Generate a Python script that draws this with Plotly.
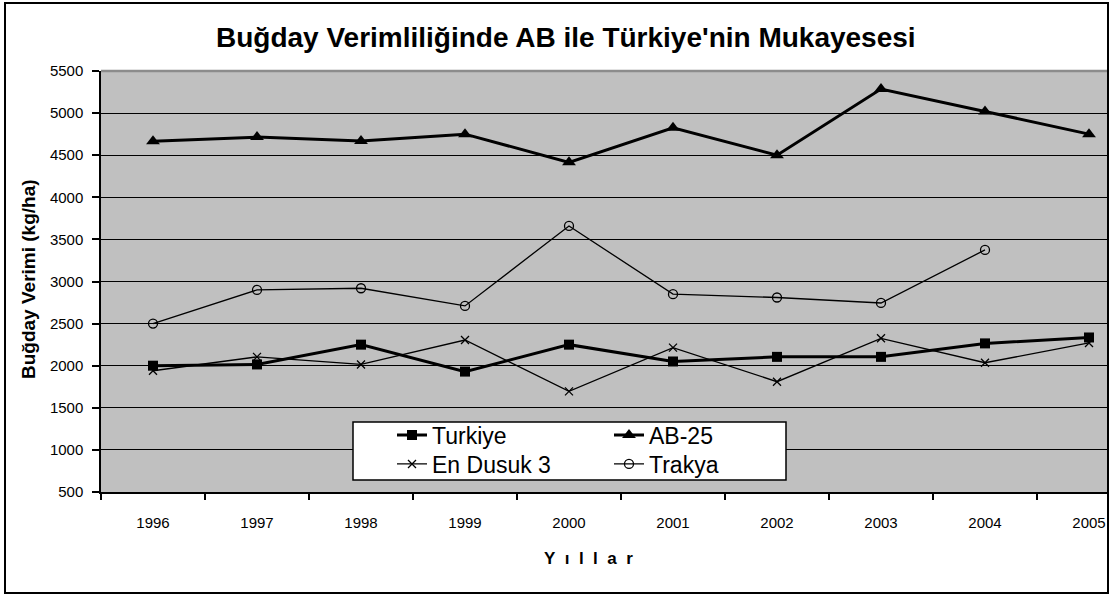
import plotly.graph_objects as go

years = ["1996", "1997", "1998", "1999", "2000", "2001", "2002", "2003", "2004", "2005"]
turkiye = [2000, 2015, 2250, 1930, 2250, 2050, 2105, 2105, 2265, 2335]
ab25 = [4665, 4715, 4670, 4750, 4415, 4825, 4500, 5285, 5020, 4750]
en_dusuk3 = [1940, 2105, 2015, 2305, 1695, 2215, 1810, 2325, 2035, 2270]
trakya = [2500, 2900, 2920, 2710, 3660, 2850, 2810, 2745, 3375, None]

title_text = "Buğday Verimliliğinde AB ile Türkiye'nin Mukayesesi"
y_title = "Buğday Verimi (kg/ha)"
x_title = "\u00a0\u00a0".join(list("Yıllar"))

FONT = "Liberation Sans, Arial, sans-serif"
W, H = 1113, 595
L, T, B, R = 101, 71, 103, 6
pw = W - L - R
ph = H - T - B
cat_w = 104.0

def px_x(p):
    return (p - L) / pw

def px_y(p):
    return 1 - (p - T) / ph

fig = go.Figure()
fig.add_trace(go.Scatter(x=years, y=turkiye, name="Turkiye", mode="lines+markers",
                         line=dict(color="black", width=3),
                         marker=dict(symbol="square", size=10, color="black"),
                         legend="legend"))
fig.add_trace(go.Scatter(x=years, y=ab25, name="AB-25", mode="lines+markers",
                         line=dict(color="black", width=3),
                         marker=dict(symbol="triangle-up", size=12, color="black"),
                         legend="legend"))
fig.add_trace(go.Scatter(x=years, y=en_dusuk3, name="En Dusuk 3", mode="lines+markers",
                         line=dict(color="black", width=1.3),
                         marker=dict(symbol="x-thin", size=8, color="black",
                                     line=dict(color="black", width=1.3)),
                         legend="legend2"))
fig.add_trace(go.Scatter(x=years, y=trakya, name="Trakya", mode="lines+markers",
                         line=dict(color="black", width=1.3),
                         marker=dict(symbol="circle-open", size=9, color="black",
                                     line=dict(color="black", width=1.3)),
                         connectgaps=False,
                         legend="legend2"))

# legend frame
fig.add_shape(type="rect", xref="paper", yref="paper",
              x0=px_x(353), x1=px_x(786), y0=px_y(480), y1=px_y(422),
              fillcolor="white", line=dict(color="black", width=1.5), layer="above")
# plot area top border
fig.add_shape(type="line", xref="paper", yref="paper", x0=0, x1=1, y0=1, y1=1,
              line=dict(color="#8c8c8c", width=2.5), layer="above")
# outer chart frame
fig.add_shape(type="rect", xref="paper", yref="paper",
              x0=px_x(5), x1=px_x(1108), y0=px_y(593), y1=px_y(3),
              line=dict(color="black", width=2), layer="above")

fig.add_annotation(text=f"<b>{title_text}</b>", xref="paper", yref="paper",
                   x=px_x(566), y=px_y(38), xanchor="center", yanchor="middle",
                   showarrow=False,
                   font=dict(family=FONT, size=28, color="black"))
fig.add_annotation(text=f"<b>{y_title}</b>", xref="paper", yref="paper",
                   x=px_x(28), y=px_y(279), xanchor="center", yanchor="middle",
                   showarrow=False, textangle=-90,
                   font=dict(family=FONT, size=19, color="black"))
fig.add_annotation(text=f"<b>{x_title}</b>", xref="paper", yref="paper",
                   x=px_x(588), y=px_y(558), xanchor="center", yanchor="middle",
                   showarrow=False,
                   font=dict(family=FONT, size=17, color="black"))

leg_font = dict(family=FONT, size=23, color="black")
fig.update_layout(
    width=W, height=H,
    margin=dict(l=L, r=R, t=T, b=B),
    paper_bgcolor="white",
    plot_bgcolor="#c0c0c0",
    font=dict(family=FONT, color="black"),
    showlegend=True,
    legend=dict(orientation="h", x=px_x(392), y=px_y(435), xanchor="left", yanchor="middle",
                bgcolor="rgba(0,0,0,0)", borderwidth=0,
                entrywidth=172, entrywidthmode="pixels", font=leg_font),
    legend2=dict(orientation="h", x=px_x(392), y=px_y(464), xanchor="left", yanchor="middle",
                 bgcolor="rgba(0,0,0,0)", borderwidth=0,
                 entrywidth=172, entrywidthmode="pixels", font=leg_font),
    xaxis=dict(type="category", range=[-0.5, -0.5 + pw / cat_w], tickson="boundaries",
               ticks="outside", ticklen=6, tickwidth=1.5, tickcolor="black",
               showline=True, linecolor="black", linewidth=1.5,
               showgrid=False, zeroline=False,
               ticklabelstandoff=16,
               tickfont=dict(family=FONT, size=15, color="black")),
    yaxis=dict(range=[500, 5500], dtick=500, tick0=500,
               ticks="outside", ticklen=7, tickwidth=1.5, tickcolor="black",
               showline=True, linecolor="black", linewidth=1.5,
               showgrid=True, gridcolor="black", gridwidth=1,
               zeroline=False,
               ticklabelstandoff=6,
               tickfont=dict(family=FONT, size=15, color="black")),
)

fig.write_html("out.html", config={"displayModeBar": False},
               post_script="document.body.style.margin='0';document.body.style.overflow='hidden';")
